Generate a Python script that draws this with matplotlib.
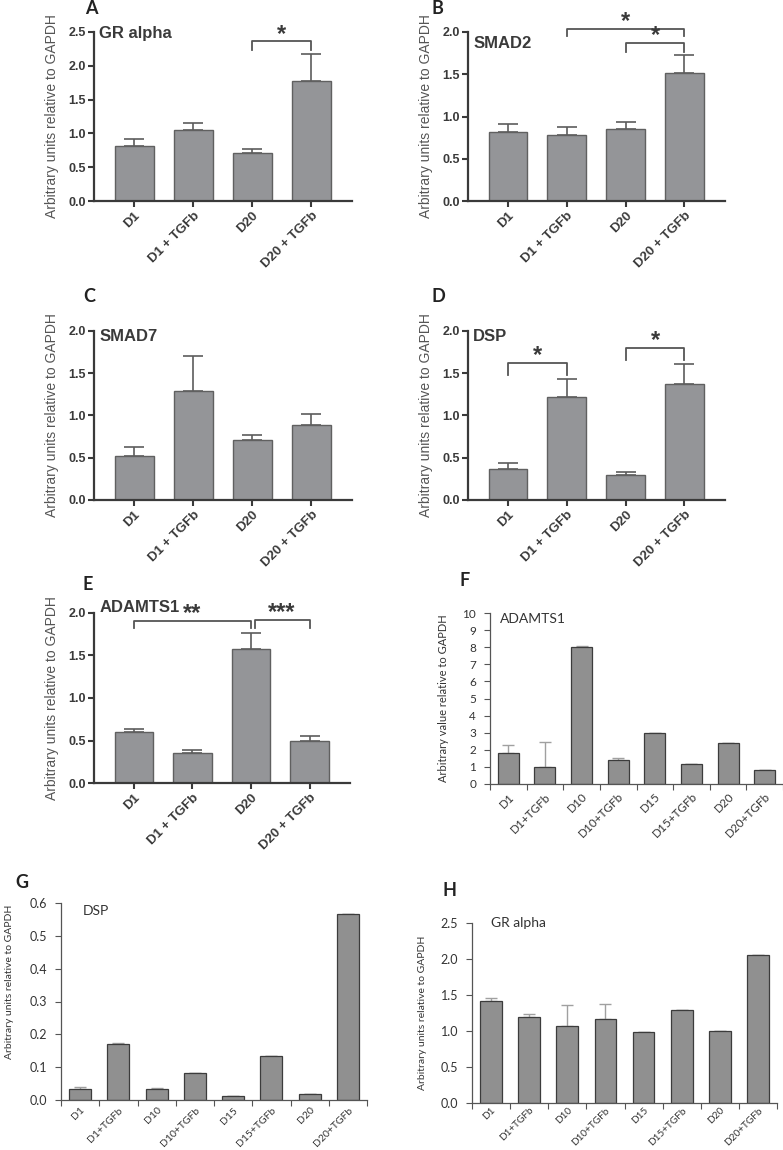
import numpy as np
import matplotlib
matplotlib.use("Agg")
import matplotlib.pyplot as plt
from matplotlib.transforms import ScaledTranslation

plt.rcParams["font.family"] = ["Liberation Sans", "DejaVu Sans"]

# =========================================================
# DATA
# =========================================================
groups_4 = ["D1", "D1 + TGFb", "D20", "D20 + TGFb"]
groups_8 = ["D1", "D1+TGFb", "D10", "D10+TGFb", "D15", "D15+TGFb", "D20", "D20+TGFb"]

# A - GR alpha
gr_alpha_mean = [0.82, 1.05, 0.71, 1.78]
gr_alpha_sem = [0.094, 0.098, 0.064, 0.39]
# B - SMAD2
smad2_mean = [0.82, 0.78, 0.857, 1.51]
smad2_sem = [0.095, 0.09, 0.075, 0.22]
# C - SMAD7
smad7_mean = [0.516, 1.29, 0.705, 0.882]
smad7_sem = [0.106, 0.415, 0.063, 0.13]
# D - DSP
dsp_mean = [0.366, 1.217, 0.295, 1.378]
dsp_sem = [0.067, 0.213, 0.032, 0.232]
# E - ADAMTS1
adamts1_mean = [0.60, 0.357, 1.58, 0.49]
adamts1_sem = [0.035, 0.027, 0.19, 0.067]

# significance brackets: (left bar, right bar, bracket height, leg bottom, label)
brackets_a = [(2, 3, 2.36, 2.23, "*")]
brackets_b = [(1, 3, 2.035, 1.95, "*"), (2, 3, 1.87, 1.76, "*")]
brackets_d = [(0, 1, 1.62, 1.48, "*"), (2, 3, 1.80, 1.66, "*")]
brackets_e = [(0, 2, 1.91, 1.82, "**"), (2.06, 3, 1.92, 1.82, "***")]

# F - ADAMTS1 time course
f_mean = [1.83, 0.97, 8.04, 1.42, 2.97, 1.15, 2.39, 0.80]
f_err = [0.45, 1.48, 0.04, 0.09, 0, 0, 0, 0]
# G - DSP time course
g_mean = [0.035, 0.171, 0.035, 0.081, 0.011, 0.133, 0.017, 0.567]
g_err = [0.006, 0.002, 0.001, 0.002, 0, 0, 0, 0]
# H - GR alpha time course
h_mean = [1.42, 1.19, 1.07, 1.17, 0.99, 1.29, 1.00, 2.05]
h_err = [0.04, 0.04, 0.29, 0.21, 0, 0, 0, 0]

W, H = 783, 1150
fig = plt.figure(figsize=(W / 100, H / 100), dpi=100)


def px_axes(x0, y_top, x1, y_bot):
    return fig.add_axes([x0 / W, 1 - y_bot / H, (x1 - x0) / W, (y_bot - y_top) / H])


DARK = "#3a3a3a"
EXCEL_FONT = ["Lato", "DejaVu Sans"]


def prism_panel(ax, means, sems, ymax, title, title_y, brackets):
    x = np.arange(len(means))
    ax.errorbar(x, means, yerr=[np.zeros(len(sems)), sems], fmt="none",
                ecolor="#5c5c5c", elinewidth=1.2, capsize=7, capthick=1.2, zorder=1)
    ax.bar(x, means, width=0.66, color="#949598", edgecolor="#606060",
           linewidth=1.0, zorder=2)
    ax.set_xlim(-0.68, 3.69)
    ax.set_ylim(0, ymax)
    yt = np.arange(0, ymax + 0.01, 0.5)
    ax.set_yticks(yt)
    ax.set_yticklabels([f"{v:.1f}" for v in yt], fontsize=9, fontweight="bold", color=DARK)
    ax.set_xticks(x)
    ax.set_xticklabels(groups_4, rotation=45, ha="right", rotation_mode="anchor",
                       fontsize=9.5, fontweight="bold", color=DARK)
    for s in ["top", "right"]:
        ax.spines[s].set_visible(False)
    for s in ["left", "bottom"]:
        ax.spines[s].set_linewidth(1.6)
        ax.spines[s].set_color(DARK)
    ax.tick_params(direction="out", length=4, width=1.5, color=DARK, pad=2)
    ax.set_ylabel("Arbitrary units relative to GAPDH", fontsize=10, color="#555555")
    ax.yaxis.set_label_coords(-0.135, 0.5)
    ax.text(0.02, title_y, title, transform=ax.transAxes, fontsize=12,
            fontweight="bold", color=DARK, ha="left", va="top")
    for i, j, yb, yl, lab in brackets:
        ax.plot([i, i, j, j], [yl, yb, yb, yl], color="#555555", lw=1.3, clip_on=False)
        ax.text((i + j) / 2, yb - 0.025 * ymax, lab, ha="center", va="bottom",
                fontsize=17, fontweight="bold", color=DARK)


def excel_panel(ax, means, errs, ymax, ystep, fmt, title, title_x, title_y,
                ylabel, lab_x, lab_y, lab_fs, tick_fs, xlab_fs, xlab_shift, xpad):
    x = np.arange(len(means))
    ax.errorbar(x, means, yerr=[np.zeros(len(errs)), errs], fmt="none",
                ecolor="#a0a0a0", elinewidth=1.0, capsize=4, capthick=1.0, zorder=1)
    ax.bar(x, means, width=0.57, color="#909090", edgecolor="#3c3c3c",
           linewidth=0.9, zorder=2)
    ax.set_xlim(-0.5, len(means) - 0.5)
    ax.set_ylim(0, ymax)
    yt = np.arange(0, ymax + ystep / 2, ystep)
    ax.set_yticks(yt)
    ax.set_yticklabels([fmt.format(v) for v in yt], fontsize=tick_fs, color="#333333",
                       family=EXCEL_FONT)
    ax.set_xticks(x)
    ax.set_xticklabels(groups_8, rotation=45, ha="right", rotation_mode="anchor",
                       fontsize=xlab_fs, color="#333333", family=EXCEL_FONT)
    shift = ScaledTranslation(xlab_shift / 72, 0, fig.dpi_scale_trans)
    for t in ax.get_xticklabels():
        t.set_transform(t.get_transform() + shift)
    ax.set_xticks(np.arange(len(means) + 1) - 0.5, minor=True)
    ax.tick_params(axis="x", which="major", length=0, pad=xpad)
    ax.tick_params(axis="x", which="minor", length=4, width=0.8, color="#555555", direction="out")
    ax.tick_params(axis="y", length=4, width=0.8, color="#555555", direction="out", pad=6)
    for s in ["top", "right"]:
        ax.spines[s].set_visible(False)
    for s in ["left", "bottom"]:
        ax.spines[s].set_linewidth(0.9)
        ax.spines[s].set_color("#555555")
    ax.set_ylabel(ylabel, fontsize=lab_fs, color="#333333", family=EXCEL_FONT)
    ax.yaxis.set_label_coords(lab_x, lab_y)
    ax.text(title_x, title_y, title, transform=ax.transAxes, fontsize=10,
            color="#333333", ha="left", va="top", family=EXCEL_FONT)


# =========================================================
# PANELS A - E (bar + SEM with significance)
# =========================================================
ax_a = px_axes(94, 32, 352, 201)
prism_panel(ax_a, gr_alpha_mean, gr_alpha_sem, 2.5, "GR alpha", 1.035, brackets_a)

ax_b = px_axes(468, 32, 725, 201)
prism_panel(ax_b, smad2_mean, smad2_sem, 2.0, "SMAD2", 0.975, brackets_b)

ax_c = px_axes(94, 331, 352, 500)
prism_panel(ax_c, smad7_mean, smad7_sem, 2.0, "SMAD7", 1.01, [])

ax_d = px_axes(468, 331, 725, 500)
prism_panel(ax_d, dsp_mean, dsp_sem, 2.0, "DSP", 1.01, brackets_d)

ax_e = px_axes(94, 613, 350, 783)
prism_panel(ax_e, adamts1_mean, adamts1_sem, 2.0, "ADAMTS1", 1.075, brackets_e)

# =========================================================
# PANELS F - H (time course)
# =========================================================
ax_f = px_axes(490, 613, 783, 784)
excel_panel(ax_f, f_mean, f_err, 10, 1, "{:.0f}", "ADAMTS1", 0.035, 1.0,
            "Arbitrary value relative to GAPDH", -0.139, 0.5, 8, 8.5, 8.5, 0, 5)

ax_g = px_axes(61, 903, 367, 1100)
excel_panel(ax_g, g_mean, g_err, 0.6, 0.1, "{:.1f}", "DSP", 0.07, 0.99,
            "Arbitrary units relative to GAPDH", -0.155, 0.6, 7.5, 9, 7.5, 4, 4)

ax_h = px_axes(472, 923, 777, 1103)
excel_panel(ax_h, h_mean, h_err, 2.5, 0.5, "{:.1f}", "GR alpha", 0.062, 1.035,
            "Arbitrary units relative to GAPDH", -0.149, 0.5, 7.5, 9, 7.2, 4, 2)

# panel letters
letters = ["A", "B", "C", "D", "E", "F", "G", "H"]
letter_pos = [(91, 8), (437, 8), (89, 297), (438, 297), (88, 584), (465, 580), (22, 883), (449, 890)]
for lab, (lx, ly) in zip(letters, letter_pos):
    fig.text(lx / W, 1 - ly / H, lab, fontsize=13, fontweight="bold", color="#222222",
             ha="center", va="center", family=EXCEL_FONT)

fig.savefig("out.png", dpi=100)
